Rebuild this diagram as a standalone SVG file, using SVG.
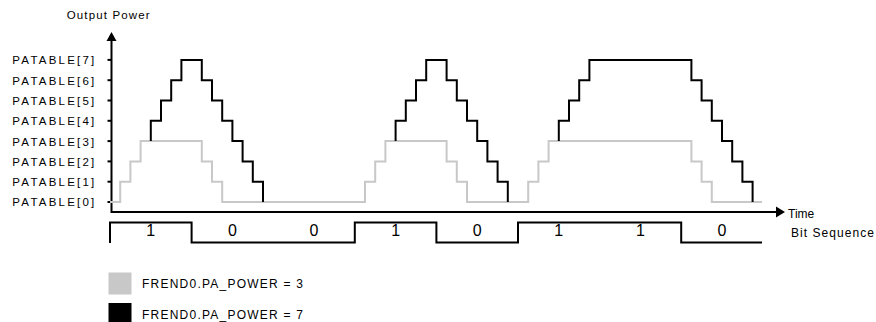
<svg xmlns="http://www.w3.org/2000/svg" width="876" height="322" viewBox="0 0 876 322">
<style>
text{font-family:"Liberation Sans",Arial,sans-serif;fill:#000}
.lbl{font-size:11.5px}
.leg{font-size:12px}
.ax{stroke:#000;stroke-width:2;fill:none}
.tick{stroke:#000;stroke-width:2}
.gray{stroke:#c8c8c8;stroke-width:2;fill:none;stroke-linejoin:miter}
.blk{stroke:#000;stroke-width:2;fill:none;stroke-linejoin:miter}
.bit{font-size:16px;text-anchor:middle}
</style>
<rect width="876" height="322" fill="#fff"/>
<g id="axes">
<path class="ax" d="M111.5,40 V212 H777"/>
<polygon points="111.5,32 106.5,41 116.5,41" fill="#000"/>
<polygon points="785,212 776,206.5 776,217.5" fill="#000"/>
<g class="tick">
<line x1="107.5" y1="202" x2="111.5" y2="202"/>
<line x1="107.5" y1="181.7" x2="111.5" y2="181.7"/>
<line x1="107.5" y1="161.4" x2="111.5" y2="161.4"/>
<line x1="107.5" y1="141.1" x2="111.5" y2="141.1"/>
<line x1="107.5" y1="120.8" x2="111.5" y2="120.8"/>
<line x1="107.5" y1="100.5" x2="111.5" y2="100.5"/>
<line x1="107.5" y1="80.2" x2="111.5" y2="80.2"/>
<line x1="107.5" y1="59.9" x2="111.5" y2="59.9"/>
</g>
<text class="lbl" x="66.7" y="19.3" textLength="83" lengthAdjust="spacing">Output Power</text>
<text style="font-size:12px" x="788" y="217.7">Time</text>
<text style="font-size:12px" x="791" y="236.7" textLength="83" lengthAdjust="spacing">Bit Sequence</text>
<g class="lbl">
<text x="12.3" y="64.3" textLength="82" lengthAdjust="spacing">PATABLE[7]</text>
<text x="12.3" y="84.6" textLength="82" lengthAdjust="spacing">PATABLE[6]</text>
<text x="12.3" y="104.9" textLength="82" lengthAdjust="spacing">PATABLE[5]</text>
<text x="12.3" y="125.2" textLength="82" lengthAdjust="spacing">PATABLE[4]</text>
<text x="12.3" y="145.5" textLength="82" lengthAdjust="spacing">PATABLE[3]</text>
<text x="12.3" y="165.8" textLength="82" lengthAdjust="spacing">PATABLE[2]</text>
<text x="12.3" y="186.1" textLength="82" lengthAdjust="spacing">PATABLE[1]</text>
<text x="12.3" y="206.4" textLength="82" lengthAdjust="spacing">PATABLE[0]</text>
</g>
</g>
<g id="trace-pa3">
<path class="gray" d="M110,202 H120.2 V181.7 H130.4 V161.4 H140.6 V141.1 H201.8 V161.4 H212 V181.7 H222.2 V202 H365 V181.7 H375.2 V161.4 H385.4 V141.1 H446.6 V161.4 H456.8 V181.7 H467 V202 H528.2 V181.7 H538.4 V161.4 H548.6 V141.1 H691.4 V161.4 H701.6 V181.7 H711.8 V202 H762"/>
</g>
<g id="trace-pa7">
<path class="blk" d="M150.8,141.1 V120.8 H161 V100.5 H171.2 V80.2 H181.4 V59.9 H201.8 V80.2 H212 V100.5 H222.2 V120.8 H232.4 V141.1 H242.6 V161.4 H252.8 V181.7 H263 V202"/>
<path class="blk" d="M395.6,141.1 V120.8 H405.8 V100.5 H416 V80.2 H426.2 V59.9 H446.6 V80.2 H456.8 V100.5 H467 V120.8 H477.2 V141.1 H487.4 V161.4 H497.6 V181.7 H507.8 V202"/>
<path class="blk" d="M558.8,141.1 V120.8 H569 V100.5 H579.2 V80.2 H589.4 V59.9 H691.4 V80.2 H701.6 V100.5 H711.8 V120.8 H722 V141.1 H732.2 V161.4 H742.4 V181.7 H752.6 V202"/>
</g>
<g id="bit-sequence">
<path class="blk" d="M110,243 V222.5 H191.6 V242.5 H354.8 V222.5 H436.4 V242.5 H518 V222.5 H681.2 V242.5 H762"/>
<text class="bit" x="150.8" y="236">1</text>
<text class="bit" x="232.4" y="236">0</text>
<text class="bit" x="314" y="236">0</text>
<text class="bit" x="395.6" y="236">1</text>
<text class="bit" x="477.2" y="236">0</text>
<text class="bit" x="558.8" y="236">1</text>
<text class="bit" x="640.4" y="236">1</text>
<text class="bit" x="722" y="236">0</text>
</g>
<g id="legend-pa3">
<rect x="108.5" y="272.5" width="23" height="22" fill="#c8c8c8"/>
<text class="leg" x="142" y="288" textLength="161" lengthAdjust="spacing">FREND0.PA_POWER = 3</text>
</g>
<g id="legend-pa7">
<rect x="108.5" y="303" width="23" height="22" fill="#000"/>
<text class="leg" x="142" y="318.5" textLength="161" lengthAdjust="spacing">FREND0.PA_POWER = 7</text>
</g>
</svg>
